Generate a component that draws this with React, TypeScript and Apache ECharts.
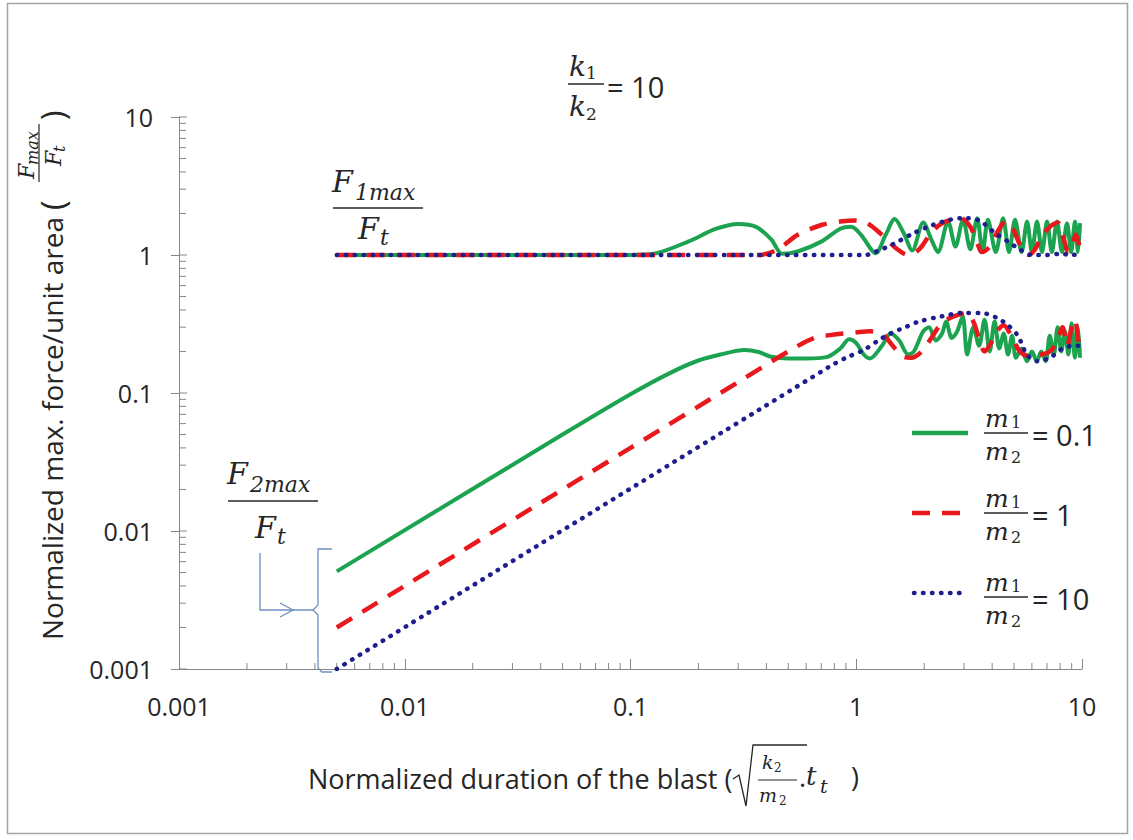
import React, { useEffect, useRef } from "react";
import * as echarts from "echarts";

// ---------------- data ----------------
// F1max/Ft curves (upper family)
const f1Green: [number, number][] = [
  [0.005, 1], [0.1, 1], [0.13, 1.03], [0.18, 1.25], [0.24, 1.55], [0.3, 1.68], [0.36, 1.6], [0.42, 1.3],
  [0.47, 1.02], [0.55, 1.06], [0.7, 1.25], [0.85, 1.55], [0.95, 1.6], [1.05, 1.4], [1.22, 1.03], [1.35, 1.4],
  [1.48, 1.82], [1.62, 1.45], [1.77, 1.08], [1.98, 1.72], [2.15, 1.3], [2.3, 1.05], [2.55, 1.75], [2.75, 1.15],
  [2.97, 1.8], [3.2, 1.1], [3.43, 1.85], [3.63, 1.05], [3.83, 1.8], [4.15, 1.05], [4.47, 1.85], [4.75, 1.05],
  [5.05, 1.8], [5.4, 1.05], [5.71, 1.75], [6.0, 1.05], [6.32, 1.75], [6.65, 1.05], [7.0, 1.75], [7.35, 1.05],
  [7.75, 1.75], [8.15, 1.05], [8.58, 1.7], [8.95, 1.05], [9.31, 1.75], [9.6, 1.05], [9.8, 1.7],
];
const f1Red: [number, number][] = [
  [0.005, 1], [0.37, 1], [0.45, 1.1], [0.55, 1.4], [0.7, 1.65], [0.85, 1.75], [1.0, 1.78], [1.12, 1.7],
  [1.3, 1.4], [1.5, 1.12], [1.7, 1.0], [1.9, 1.1], [2.15, 1.45], [2.4, 1.7], [2.9, 1.85], [3.2, 1.6],
  [3.45, 1.2], [3.6, 1.05], [3.9, 1.15], [4.2, 1.45], [4.6, 1.75], [4.9, 1.6], [5.3, 1.2], [5.8, 1.0],
  [6.2, 1.1], [6.6, 1.35], [7.2, 1.6], [7.8, 1.72], [8.3, 1.3], [8.7, 1.05], [9.0, 1.15], [9.4, 1.4], [9.8, 1.1],
];
const f1Blue: [number, number][] = [
  [0.005, 1], [1.1, 1], [1.21, 1.05], [1.46, 1.2], [1.78, 1.43], [2.18, 1.65], [2.6, 1.8], [2.96, 1.85],
  [3.5, 1.78], [4.1, 1.45], [4.7, 1.25], [5.2, 1.12], [6.0, 1.0], [7.0, 1.0], [8.0, 1.02], [9.0, 1.0], [9.8, 1.02],
];
// F2max/Ft curves (lower family)
const f2Green: [number, number][] = [
  [0.005, 0.0051], [0.05, 0.05], [0.1, 0.098], [0.15, 0.14], [0.2, 0.172], [0.25, 0.19], [0.32, 0.205],
  [0.37, 0.198], [0.42, 0.183], [0.5, 0.178], [0.6, 0.178], [0.74, 0.182], [0.85, 0.21], [0.93, 0.245],
  [1.0, 0.23], [1.08, 0.19], [1.15, 0.178], [1.3, 0.22], [1.42, 0.27], [1.55, 0.24], [1.7, 0.19], [1.8, 0.2],
  [1.98, 0.28], [2.1, 0.3], [2.25, 0.24], [2.4, 0.27], [2.5, 0.33], [2.65, 0.25], [2.8, 0.28], [2.96, 0.36],
  [3.1, 0.19], [3.3, 0.3], [3.5, 0.22], [3.7, 0.34], [3.9, 0.2], [4.1, 0.33], [4.3, 0.21], [4.5, 0.27],
  [4.7, 0.19], [4.9, 0.26], [5.1, 0.18], [5.4, 0.21], [5.7, 0.17], [6.0, 0.2], [6.3, 0.17], [6.6, 0.2],
  [6.9, 0.17], [7.2, 0.26], [7.5, 0.19], [7.8, 0.3], [8.1, 0.2], [8.4, 0.28], [8.7, 0.19], [9.0, 0.32],
  [9.3, 0.18], [9.6, 0.3], [9.8, 0.18],
];
const f2Red: [number, number][] = [
  [0.005, 0.002], [0.1, 0.04], [0.3, 0.12], [0.5, 0.2], [0.65, 0.25], [0.8, 0.265], [1.0, 0.275],
  [1.15, 0.28], [1.3, 0.27], [1.45, 0.22], [1.6, 0.185], [1.75, 0.18], [1.95, 0.2], [2.15, 0.25],
  [2.35, 0.31], [2.6, 0.35], [2.85, 0.37], [3.1, 0.38], [3.3, 0.33], [3.5, 0.25], [3.7, 0.2], [3.95, 0.23],
  [4.2, 0.28], [4.5, 0.31], [4.8, 0.27], [5.2, 0.21], [5.5, 0.19], [6.0, 0.185], [6.6, 0.19], [7.2, 0.2],
  [7.7, 0.23], [8.2, 0.3], [8.6, 0.22], [9.0, 0.3], [9.3, 0.34], [9.6, 0.25], [9.8, 0.2],
];
const f2Blue: [number, number][] = [
  [0.005, 0.001], [0.76, 0.155], [0.9, 0.18], [1.08, 0.205], [1.25, 0.24], [1.42, 0.27], [1.65, 0.3],
  [1.9, 0.33], [2.4, 0.36], [2.96, 0.38], [3.6, 0.38], [4.2, 0.35], [4.7, 0.31], [5.2, 0.26], [5.7, 0.19],
  [6.3, 0.17], [7.2, 0.18], [8.2, 0.21], [9.3, 0.22], [9.8, 0.22],
];

const decades = [0.001, 0.01, 0.1, 1];
const minorMultipliers = [2, 3, 4, 5, 6, 7, 8, 9];
const yInsideMultipliers = [1, 2, 3, 4, 5, 6, 7, 8, 9];

const legendLabels = ["0.1", "1", "10"];

// ---------------- styles ----------------
const GREEN = "#1ba34f";
const RED = "#e8181c";
const BLUE = "#1e1e8e";
const AXIS = "#868686";
const INK = "#262626";
const BRACKET = "#6f8fc0";
const SANS = '"Open Sans", sans-serif';
const MATH = '"DejaVu Serif", serif';

function txt(text: string, x: number, y: number, size: number, opt: any = {}) {
  return {
    type: "text",
    x,
    y,
    silent: true,
    style: {
      text,
      fontSize: size,
      fontFamily: opt.family || SANS,
      fontStyle: opt.italic ? "italic" : "normal",
      fill: opt.fill || INK,
      align: opt.align || "left",
      verticalAlign: opt.va || "middle",
    },
  };
}
function seg(x1: number, y1: number, x2: number, y2: number, w = 1.3, color = INK, extra: any = {}) {
  return {
    type: "line",
    silent: true,
    shape: { x1, y1, x2, y2 },
    style: { stroke: color, lineWidth: w, ...extra },
  };
}
function poly(points: number[][], w = 1.3, color = BRACKET) {
  return {
    type: "polyline",
    silent: true,
    shape: { points },
    style: { stroke: color, lineWidth: w, fill: "none" },
  };
}
const mi = (t: string, x: number, y: number, s: number) => txt(t, x, y, s, { family: MATH, italic: true });
const mu = (t: string, x: number, y: number, s: number) => txt(t, x, y, s, { family: MATH });

function fmtLog(v: number) {
  const e = Math.round(Math.log10(v));
  return e >= 0 ? String(Math.pow(10, e)) : Math.pow(10, e).toFixed(-e);
}

export default function App() {
  const ref = useRef<HTMLDivElement>(null);
  useEffect(() => {
    if (!ref.current) return;
    const chart = echarts.init(ref.current, undefined, { renderer: "svg" });

    const xMinor: number[] = [];
    decades.forEach((d) => minorMultipliers.forEach((m) => xMinor.push(d * m)));
    const yInside: number[] = [];
    decades.forEach((d) => yInsideMultipliers.forEach((m) => yInside.push(d * m)));
    yInside.push(10);

    const lineSeries = (name: string, data: any, color: string, lineStyle: any, smooth: number) => ({
      name,
      type: "line",
      data,
      showSymbol: false,
      symbol: "none",
      smooth,
      lineStyle: { color, width: 4, ...lineStyle },
      itemStyle: { color },
      silent: true,
      z: 3,
    });
    const greenStyle = { type: "solid", width: 4 };
    const redStyle = { type: [18, 12], width: 4.5, cap: "butt" };
    const blueStyle = { type: [0.5, 8.5], width: 4.5, cap: "round" };

    // legend entries graphics
    const legendY = [433, 513, 597];
    const legendG: any[] = [];
    legendY.forEach((ly, i) => {
      if (i === 0) legendG.push(seg(912, ly, 968, ly, 4.5, GREEN));
      if (i === 1) legendG.push(seg(912, ly, 966, ly, 4.5, RED, { lineDash: [18, 12] }));
      if (i === 2) legendG.push(seg(914, ly - 4, 962, ly - 4, 4.5, BLUE, { lineDash: [0.5, 8.5], lineCap: "round" }));
      const fx = 984;
      legendG.push(seg(fx, ly, fx + 44, ly, 1.3));
      legendG.push(mi("m", fx + 1, ly - 15, 25));
      legendG.push(mu("1", fx + 27, ly - 11, 16));
      legendG.push(mi("m", fx + 1, ly + 18, 25));
      legendG.push(mu("2", fx + 27, ly + 24, 16));
      legendG.push(txt("= " + legendLabels[i], fx + 48, ly + 1, 29));
    });

    const option: any = {
      animation: false,
      backgroundColor: "#ffffff",
      grid: { left: 179, right: 51, top: 117, bottom: 171, containLabel: false },
      xAxis: {
        type: "log",
        logBase: 10,
        min: 0.001,
        max: 10,
        axisLine: { show: true, lineStyle: { color: AXIS, width: 1 } },
        axisTick: { show: true, inside: true, length: 10, lineStyle: { color: AXIS } },
        minorTick: { show: false },
        splitLine: { show: false },
        axisLabel: { margin: 24, fontSize: 25, fontFamily: SANS, color: INK, formatter: fmtLog },
      },
      yAxis: {
        type: "log",
        logBase: 10,
        min: 0.001,
        max: 10,
        axisLine: { show: true, lineStyle: { color: AXIS, width: 1 } },
        axisTick: { show: true, inside: false, length: 8, lineStyle: { color: AXIS } },
        splitLine: { show: false },
        axisLabel: { margin: 26, fontSize: 25, fontFamily: SANS, color: INK, formatter: fmtLog },
      },
      series: [
        {
          type: "custom",
          silent: true,
          clip: false,
          z: 1,
          data: xMinor.map((v) => [v, 0.001]),
          renderItem: (_p: any, api: any) => {
            const p = api.coord([api.value(0), api.value(1)]);
            return { type: "line", shape: { x1: p[0], y1: p[1], x2: p[0], y2: p[1] - 6 }, style: { stroke: AXIS, lineWidth: 1 } };
          },
        },
        {
          type: "custom",
          silent: true,
          clip: false,
          z: 1,
          data: yInside.map((v) => [0.001, v]),
          renderItem: (_p: any, api: any) => {
            const v = api.value(1);
            const lg = Math.log10(v);
            const major = Math.abs(lg - Math.round(lg)) < 1e-6;
            const p = api.coord([api.value(0), v]);
            return { type: "line", shape: { x1: p[0], y1: p[1], x2: p[0] + (major ? 8 : 7), y2: p[1] }, style: { stroke: AXIS, lineWidth: 1 } };
          },
        },
        lineSeries("F1max/Ft, m1/m2 = 0.1", f1Green, GREEN, greenStyle, 0.3),
        lineSeries("F2max/Ft, m1/m2 = 0.1", f2Green, GREEN, greenStyle, 0.3),
        lineSeries("F1max/Ft, m1/m2 = 1", f1Red, RED, redStyle, 0.3),
        lineSeries("F2max/Ft, m1/m2 = 1", f2Red, RED, redStyle, 0.3),
        lineSeries("F1max/Ft, m1/m2 = 10", f1Blue, BLUE, blueStyle, 0.3),
        lineSeries("F2max/Ft, m1/m2 = 10", f2Blue, BLUE, blueStyle, 0.3),
      ],
      graphic: [
        // outer border
        { type: "rect", silent: true, shape: { x: 7.5, y: 3.5, width: 1120, height: 830 }, style: { fill: "none", stroke: "#a3a3a3", lineWidth: 1.5 } },
        // k1/k2 = 10
        mi("k", 569, 66, 28),
        mu("1", 586, 73, 17),
        seg(568, 84, 604, 84, 1.3),
        mi("k", 569, 106, 28),
        mu("2", 586, 114, 17),
        txt("= 10", 607, 86, 29),
        // F1max / Ft
        mi("F", 332, 181, 30),
        mi("1max", 355, 192, 22),
        seg(333, 208, 423, 208, 1.3),
        mi("F", 358, 228, 30),
        mi("t", 380, 237, 22),
        // F2max / Ft
        mi("F", 227, 473, 30),
        mi("2max", 250, 484, 22),
        seg(228, 501, 318, 501, 1.3),
        mi("F", 255, 527, 30),
        mi("t", 277, 536, 22),
        // bracket + arrow
        poly([[260, 553], [260, 610], [313, 610]]),
        poly([[280, 603], [293, 610], [280, 617]]),
        poly([[332, 549], [318, 549], [318, 605], [313, 610], [318, 615], [318, 668], [322, 672], [332, 672]]),
        // legend
        ...legendG,
        // x axis title
        txt("Normalized duration of the blast (", 308, 778, 27),
        poly([[733, 779], [739, 775], [746, 806], [753, 745], [807, 745]], 1.3, INK),
        mi("k", 762, 762, 19),
        mu("2", 774, 768, 12),
        seg(758, 780, 797, 780, 1.2),
        mi("m", 759, 795, 19),
        mu("2", 779, 801, 12),
        txt(".", 799, 776, 27),
        mi("t", 806, 776, 26),
        mi("t", 820, 786, 19),
        txt(")", 851, 776, 27),
        // y axis title (rotated)
        {
          type: "group",
          x: 52,
          y: 640,
          rotation: Math.PI / 2,
          silent: true,
          children: [
            txt("Normalized max. force/unit area", 0, 0, 28),
            txt("(", 430, 0, 32),
            mi("F", 461, -26, 22),
            mi("max", 475, -20, 16),
            seg(458, -13, 516, -13, 1.2),
            mi("F", 474, 1, 22),
            mi("t", 488, 7, 16),
            txt(")", 520, 0, 32),
          ],
        },
      ],
    };
    chart.setOption(option);
    return () => chart.dispose();
  }, []);
  return (
    <div
      ref={ref}
      style={{ position: "fixed", left: 0, top: 0, width: 1133, height: 840, background: "#fff" }}
    />
  );
}
